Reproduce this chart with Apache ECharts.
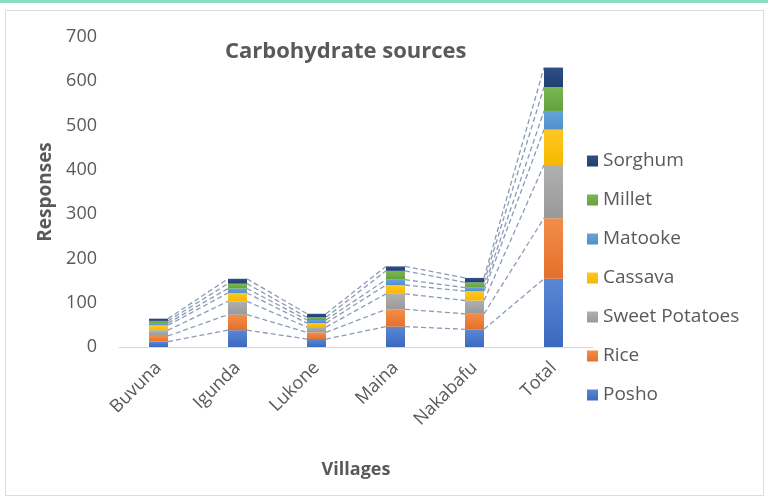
<!DOCTYPE html>
<html>
<head>
<meta charset="utf-8">
<script src="https://cdn.jsdelivr.net/npm/echarts@6/dist/echarts.min.js"></script>
<style>
  html, body { margin: 0; padding: 0; background: #fff; }
  #strip { position: absolute; left: 0; top: 0; width: 768px; height: 3px; background: #8fdcc5; }
  #frame { position: absolute; left: 5px; top: 10px; width: 757px; height: 484px; border: 1px solid #dcdcdc; }
  #chart { position: absolute; left: 0; top: 0; width: 768px; height: 499px; }
</style>
</head>
<body>
<div id="strip"></div>
<div id="frame"></div>
<div id="chart"></div>
<script>
"use strict";

/* ---------- data ---------- */
const villages      = ["Buvuna", "Igunda", "Lukone", "Maina", "Nakabafu", "Total"];
const posho         = [12, 38, 18, 46, 40, 154];
const rice          = [13, 35, 15, 39, 35, 137];
const sweetPotatoes = [13, 30, 12, 35, 30, 120];
const cassava       = [11, 19, 9, 20, 21, 80];
const matooke       = [5, 10, 7, 12, 8, 42];
const millet        = [5, 11, 6, 20, 12, 54];
const sorghum       = [5, 11, 8, 10, 10, 44];
const yMin = 0, yMax = 700, yStep = 100;

const stackOrder = [
  { name: "Posho",          data: posho,         color: ["#5b87d2", "#3a69c0"] },
  { name: "Rice",           data: rice,          color: ["#f28e4a", "#e4702a"] },
  { name: "Sweet Potatoes", data: sweetPotatoes, color: ["#b0b0b0", "#999999"] },
  { name: "Cassava",        data: cassava,       color: ["#ffc823", "#f6b800"] },
  { name: "Matooke",        data: matooke,       color: ["#66a3da", "#4f8fcc"] },
  { name: "Millet",         data: millet,        color: ["#7bb652", "#64a23e"] },
  { name: "Sorghum",        data: sorghum,       color: ["#2e4f87", "#213f70"] }
];

const FONT = "'Open Sans', sans-serif";
const GREY = "#595959";
const BAR_W = 19;

/* ---------- series lines (connect segment tops between neighbours) ---------- */
const lineData = [];
const running = villages.map(() => 0);
stackOrder.forEach(s => {
  s.data.forEach((v, i) => { running[i] += v; });
  for (let i = 0; i < villages.length - 1; i++) {
    lineData.push([i, running[i], running[i + 1]]);
  }
});

const barSeries = stackOrder.map(s => ({
  name: s.name,
  type: "bar",
  stack: "all",
  barWidth: BAR_W,
  data: s.data,
  z: 3,
  itemStyle: {
    color: {
      type: "linear", x: 0, y: 0, x2: 0, y2: 1,
      colorStops: [{ offset: 0, color: s.color[0] }, { offset: 1, color: s.color[1] }]
    }
  }
}));

const chart = echarts.init(document.getElementById("chart"), null, { renderer: "canvas" });

chart.setOption({
  backgroundColor: "transparent",
  animation: false,
  title: {
    text: "Carbohydrate sources",
    left: 220, top: 36,
    textStyle: { fontFamily: FONT, fontSize: 22, fontWeight: "bold", color: GREY }
  },
  legend: {
    orient: "vertical",
    left: 582, top: 146,
    icon: "rect",
    itemWidth: 11, itemHeight: 11,
    itemGap: 19,
    data: stackOrder.map(s => s.name).reverse(),
    textStyle: { fontFamily: FONT, fontSize: 19, color: GREY, lineHeight: 20 }
  },
  grid: { left: 119, right: 175, top: 37, bottom: 152 },
  xAxis: {
    type: "category",
    data: villages,
    name: "Villages",
    nameLocation: "middle",
    nameGap: 114,
    nameTextStyle: { fontFamily: FONT, fontSize: 18, fontWeight: "bold", color: GREY },
    axisLine: { lineStyle: { color: "#d9d9d9", width: 1 } },
    axisTick: { show: false },
    axisLabel: { rotate: 45, margin: 18, fontFamily: FONT, fontSize: 18, color: GREY }
  },
  yAxis: {
    type: "value",
    min: yMin, max: yMax, interval: yStep,
    name: "Responses",
    nameLocation: "middle",
    nameGap: 64,
    nameRotate: 90,
    nameTextStyle: { fontFamily: FONT, fontSize: 19, fontWeight: "bold", color: GREY },
    axisLine: { show: false },
    axisTick: { show: false },
    splitLine: { show: false },
    axisLabel: { margin: 22, fontFamily: FONT, fontSize: 18, color: GREY }
  },
  series: barSeries.concat([{
    type: "custom",
    name: "seriesLines",
    data: lineData,
    encode: { x: 0, y: [1, 2] },
    z: 2,
    silent: true,
    renderItem: (params, api) => {
      const i = api.value(0);
      const a = api.coord([i, api.value(1)]);
      const b = api.coord([i + 1, api.value(2)]);
      return {
        type: "line",
        shape: { x1: a[0] + BAR_W / 2, y1: a[1], x2: b[0] - BAR_W / 2, y2: b[1] },
        style: { stroke: "#8a9bb8", lineWidth: 1.3, lineDash: [5, 3] }
      };
    }
  }])
});
</script>
</body>
</html>
